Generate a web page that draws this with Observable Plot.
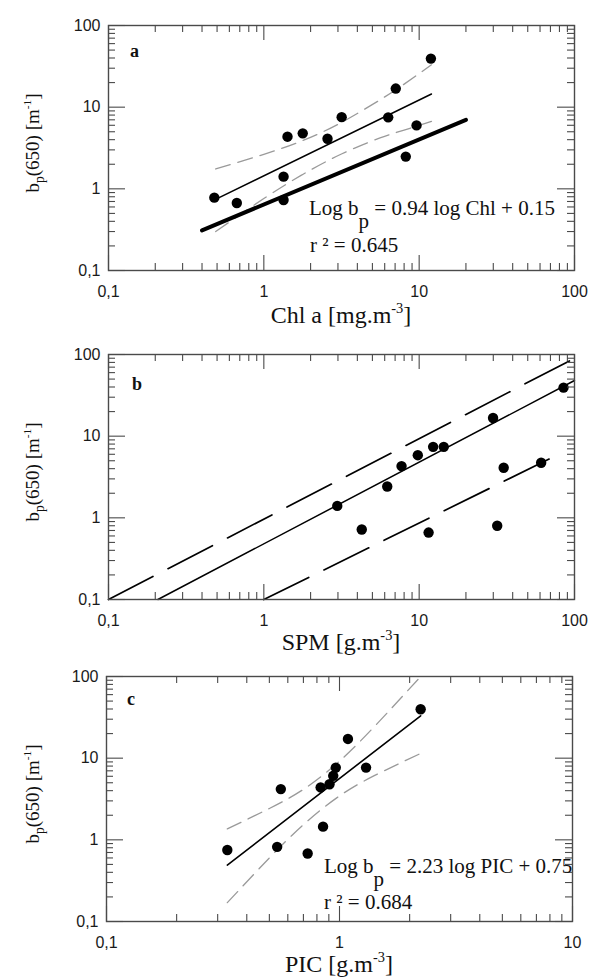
<!DOCTYPE html>
<html><head><meta charset="utf-8">
<script src="https://cdn.jsdelivr.net/npm/d3@7"></script>
<script src="https://cdn.jsdelivr.net/npm/@observablehq/plot@0.6"></script>
<style>
body{margin:0;background:#fff;}
#root{position:relative;width:591px;height:979px;overflow:hidden;background:#fff;}
#root svg{position:absolute;left:0;}
</style></head><body><div id="root"></div>
<script>
// ---------- DATA ----------
// Panel a : bp(650) vs Chl a
const chlA = [0.48, 0.67, 1.34, 1.34, 1.42, 1.78, 2.57, 3.17, 6.32, 7.07, 8.2, 9.62, 11.9];
const bpA  = [0.78, 0.67, 1.41, 0.73, 4.35, 4.78, 4.1, 7.55, 7.5, 16.9, 2.48, 5.98, 39.3];
const regAX = [0.5, 12];      const regAY = [0.76, 14.5];
const thickAX = [0.4, 20];    const thickAY = [0.31, 7.0];
const bandAX  = [0.49, 1.0, 1.78, 3.16, 5.6, 7.9, 12.0];
const bandAUp = [1.75, 2.65, 3.9, 6.5, 12.3, 18.8, 33];
const bandALo = [0.30, 0.76, 1.5, 2.67, 4.2, 5.2, 6.7];

// Panel b : bp(650) vs SPM
const spmB = [2.97, 4.27, 6.23, 7.7, 9.8, 12.3, 14.4, 11.5, 29.9, 31.8, 35, 61, 85];
const bpB  = [1.40, 0.72, 2.42, 4.3, 5.85, 7.4, 7.4, 0.66, 16.7, 0.80, 4.1, 4.72, 39.3];
const midBX = [0.208, 100];  const midBY = [0.1, 48];
const upBX  = [0.1, 100];    const upBY  = [0.1, 90];
const loBX  = [1.0, 82];     const loBY  = [0.1, 6.2];

// Panel c : bp(650) vs PIC
const picC = [0.33, 0.54, 0.56, 0.73, 0.83, 0.85, 0.906, 0.94, 0.964, 1.087, 1.30, 2.23];
const bpC  = [0.75, 0.82, 4.18, 0.68, 4.38, 1.45, 4.8, 6.08, 7.67, 17.2, 7.67, 39.7];
const regCX = [0.33, 2.23];   const regCY = [0.49, 33];
const bandCX  = [0.33, 0.5, 0.71, 1.0, 1.41, 2.21];
const bandCUp = [1.36, 2.42, 4.26, 9.2, 24.3, 97];
const bandCLo = [0.17, 0.60, 1.59, 3.45, 6.1, 11.3];

// Axis ticks
const yMajor = [0.1, 1, 10, 100];
const xMajorAB = [0.1, 1, 10, 100];
const xMajorC = [0.1, 1, 10];
const tickLabel = d => d === 0.1 ? "0,1" : String(d);
const minorOf = decades => decades.flatMap(d => [2,3,4,5,6,7,8,9].map(k => +(k*d).toPrecision(3)));
const yMinor = minorOf([0.1, 1, 10]);
const xMinorAB = minorOf([0.1, 1, 10]);
const xMinorC = minorOf([0.1, 1]);

// ---------- DRAWING ----------
const root = document.getElementById("root");
const W = 591, IH = 245, MT = 10, MB = 40;
const frameC = "#4a4a4a";
const MAJ = 15, MIN = 7;

function panel({top, left, right, xDomain, xMajor, xMinor, marks}) {
  const IW = right - left;
  const tw = 1.1;
  const tickMarks = [
    Plot.tickX(xMajor, {x: d => d, stroke: frameC, strokeWidth: tw, insetTop: IH - MAJ}),
    Plot.tickX(xMajor, {x: d => d, stroke: frameC, strokeWidth: tw, insetBottom: IH - MAJ}),
    Plot.tickX(xMinor, {x: d => d, stroke: frameC, strokeWidth: tw, insetTop: IH - MIN}),
    Plot.tickX(xMinor, {x: d => d, stroke: frameC, strokeWidth: tw, insetBottom: IH - MIN}),
    Plot.tickY(yMajor, {y: d => d, stroke: frameC, strokeWidth: tw, insetRight: IW - MAJ - 2}),
    Plot.tickY(yMajor, {y: d => d, stroke: frameC, strokeWidth: tw, insetLeft: IW - MAJ - 2}),
    Plot.tickY(yMinor, {y: d => d, stroke: frameC, strokeWidth: tw, insetRight: IW - MIN}),
    Plot.tickY(yMinor, {y: d => d, stroke: frameC, strokeWidth: tw, insetLeft: IW - MIN}),
    Plot.frame({stroke: frameC, strokeWidth: 1.4}),
    Plot.axisX(xMajor, {anchor: "bottom", tickSize: 0, tickPadding: 15, tickFormat: tickLabel, label: null, fontSize: 16}),
    Plot.axisY(yMajor, {anchor: "left", tickSize: 0, tickPadding: 8, tickFormat: tickLabel, label: null, fontSize: 16})
  ];
  const svg = Plot.plot({
    width: W, height: MT + IH + MB,
    marginLeft: left, marginRight: W - right, marginTop: MT, marginBottom: MB,
    x: {type: "log", domain: xDomain},
    y: {type: "log", domain: [0.1, 100]},
    style: {fontFamily: "'Liberation Sans', Arial, sans-serif", fontSize: "16px", color: "#1a1a1a", background: "transparent", overflow: "visible"},
    marks: [...marks, ...tickMarks]
  });
  svg.style.top = (top - MT) + "px";
  root.appendChild(svg);
}

const gray = "#9a9a9a";
const band = (xs, ys) => Plot.line(xs, {x: xs, y: ys, stroke: gray, strokeWidth: 1.3, strokeDasharray: "15,8", curve: "natural"});

// Panel a
panel({
  top: 25, left: 108, right: 574, xDomain: [0.1, 100], xMajor: xMajorAB, xMinor: xMinorAB,
  marks: [
    band(bandAX, bandAUp),
    band(bandAX, bandALo),
    Plot.line(thickAX, {x: thickAX, y: thickAY, stroke: "#000", strokeWidth: 4}),
    Plot.line(regAX, {x: regAX, y: regAY, stroke: "#000", strokeWidth: 1.5}),
    Plot.dot(chlA, {x: chlA, y: bpA, r: 5.2, fill: "#000"})
  ]
});

// Panel b
panel({
  top: 354, left: 108, right: 574, xDomain: [0.1, 100], xMajor: xMajorAB, xMinor: xMinorAB,
  marks: [
    Plot.line(upBX, {x: upBX, y: upBY, stroke: "#000", strokeWidth: 1.7, strokeDasharray: "50,17"}),
    Plot.line(loBX, {x: loBX, y: loBY, stroke: "#000", strokeWidth: 1.7, strokeDasharray: "50,17"}),
    Plot.line(midBX, {x: midBX, y: midBY, stroke: "#000", strokeWidth: 1.5}),
    Plot.dot(spmB, {x: spmB, y: bpB, r: 5.2, fill: "#000"})
  ]
});

// Panel c
panel({
  top: 676, left: 106, right: 572, xDomain: [0.1, 10], xMajor: xMajorC, xMinor: xMinorC,
  marks: [
    band(bandCX, bandCUp),
    band(bandCX, bandCLo),
    Plot.line(regCX, {x: regCX, y: regCY, stroke: "#000", strokeWidth: 1.6}),
    Plot.dot(picC, {x: picC, y: bpC, r: 5.2, fill: "#000"})
  ]
});

// ---------- TEXT OVERLAY ----------
const overlay = d3.create("svg").attr("width", W).attr("height", 979)
  .style("top", "0px").style("pointer-events", "none");
const txt = overlay.append("g")
  .attr("font-family", "'Liberation Serif','Times New Roman',serif")
  .attr("fill", "#111").style("white-space", "pre");

function label(x, y, parts, opts = {}) {
  const size = opts.size || 20;
  const t = txt.append("text").attr("x", x).attr("y", y).attr("font-size", size)
    .attr("text-anchor", opts.anchor || "start");
  if (opts.weight) t.attr("font-weight", opts.weight);
  if (opts.rotate) t.attr("transform", `rotate(${opts.rotate},${x},${y})`);
  let shift = 0;
  for (const p of parts) {
    const [s, off = 0, scale = 1, dx = 0] = typeof p === "string" ? [p] : p;
    const ts = t.append("tspan").attr("dy", off - shift).attr("font-size", size * scale).text(s);
    if (dx) ts.attr("dx", dx);
    shift = off;
  }
}

const panels = [
  {top: 25, cx: 341, letter: "a", xt: ["Chl a [mg.m", "]"], xtY: 323, lx: 130, ly: 57},
  {top: 354, cx: 341, letter: "b", xt: ["SPM [g.m", "]"], xtY: 650, lx: 132, ly: 390},
  {top: 676, cx: 339, letter: "c", xt: ["PIC [g.m", "]"], xtY: 972, lx: 127, ly: 705}
];
for (const p of panels) {
  label(p.lx, p.ly, [p.letter], {size: 18, weight: "bold"});
  label(p.cx, p.xtY, [p.xt[0], ["-3", -10, 0.6], [p.xt[1], 0]], {size: 24, anchor: "middle"});
  label(39, p.top + 118, ["b", ["p", 5, 0.72], ["(650)  [m", 0], ["-1", -8, 0.6], ["]", 0]],
    {size: 19, anchor: "middle", rotate: -90});
}
// equations
label(309, 215, ["Log b", ["p", 13], [" = 0.94 log Chl + 0.15", 0]], {size: 21});
label(310, 252, ["r \u00b2 = 0.645"], {size: 21});
label(324, 873, ["Log b", ["p", 13], [" = 2.23 log PIC + 0.75", 0]], {size: 21});
label(324, 909, ["r \u00b2 = 0.684"], {size: 21});

root.appendChild(overlay.node());
</script></body></html>
